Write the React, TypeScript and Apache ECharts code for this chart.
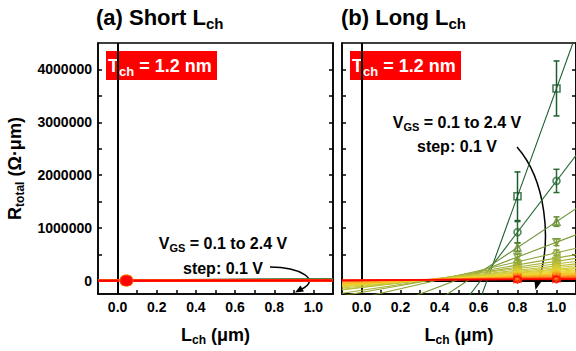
import React, { useEffect, useRef } from "react";
import * as echarts from "echarts";

// ---- data ----
const VGS = [0.1, 0.2, 0.3, 0.4, 0.5, 0.6, 0.7, 0.8, 0.9, 1.0, 1.1, 1.2, 1.3, 1.4, 1.5, 1.6, 1.7, 1.8, 1.9, 2.0, 2.1, 2.2, 2.3, 2.4];

// long channel (panel b), Ω·µm
const LONG_L = [0.8, 1.0];
const R_LONG_08 = [1600000, 920000, 630000, 450000, 360000, 300000, 260000, 230000, 200000, 180000, 160000, 145000, 130000, 118000, 106000, 96000, 87000, 78000, 70000, 60000, 50000, 40000, 31000, 24000];
const R_LONG_10 = [3640000, 1890000, 1120000, 730000, 530000, 430000, 370000, 320000, 280000, 250000, 220000, 200000, 180000, 162000, 146000, 132000, 118000, 105000, 92000, 76000, 62000, 48000, 36000, 27000];
const ERR_LONG_08 = [460000, 200000, 80000, 55000, 45000, 38000, 33000, 29000, 25000, 22000, 20000, 18000, 16000, 14000, 12000, 11000, 10000, 9000, 8000, 7000, 6000, 5000, 4000, 3000];
const ERR_LONG_10 = [520000, 220000, 90000, 65000, 55000, 45000, 40000, 35000, 31000, 28000, 25000, 22000, 20000, 18000, 16000, 14000, 12000, 11000, 10000, 9000, 8000, 7000, 6000, 5000];

// short channel (panel a), Ω·µm
const SHORT_L = [0.04, 0.05];
const R_SHORT_04 = [9000, 8200, 7600, 7100, 6700, 6300, 6000, 5700, 5450, 5200, 5000, 4800, 4600, 4450, 4300, 4150, 4000, 3850, 3700, 3550, 3400, 3250, 3100, 3000];
const R_SHORT_05 = [9200, 8360, 7720, 7200, 6780, 6370, 6060, 5750, 5490, 5235, 5030, 4825, 4622, 4470, 4318, 4166, 4014, 3862, 3710, 3559, 3408, 3257, 3106, 3005];

// axis ticks / labels
const X_LABELS = [0, 0.2, 0.4, 0.6, 0.8, 1.0];
const X_TICKS = [0, 0.1, 0.2, 0.3, 0.4, 0.5, 0.6, 0.7, 0.8, 0.9, 1.0];
const Y_LABELS = [0, 1000000, 2000000, 3000000, 4000000];
const Y_TICKS = [0, 500000, 1000000, 1500000, 2000000, 2500000, 3000000, 3500000, 4000000];
const X_MIN = -0.1, X_MAX = 1.1, Y_MIN = -250000, Y_MAX = 4500000;

// ---- styling ----
const FONT = "'Liberation Sans', Arial, Helvetica, sans-serif";
const STOPS: [number, number[]][] = [
  [0, [26, 92, 46]],
  [0.045, [40, 106, 50]],
  [0.09, [105, 145, 50]],
  [0.2, [150, 170, 55]],
  [0.4, [205, 200, 55]],
  [0.6, [240, 214, 40]],
  [0.78, [248, 170, 30]],
  [0.92, [252, 80, 15]],
  [1, [255, 0, 0]],
];
function colorAt(t: number) {
  for (let k = 1; k < STOPS.length; k++) {
    if (t <= STOPS[k][0]) {
      const [t0, c0] = STOPS[k - 1];
      const [t1, c1] = STOPS[k];
      const f = (t - t0) / (t1 - t0);
      const c = c0.map((v, j) => Math.round(v + (c1[j] - v) * f));
      return `rgb(${c[0]},${c[1]},${c[2]})`;
    }
  }
  return "rgb(255,0,0)";
}
const COLORS = VGS.map((_, i) => colorAt(i / (VGS.length - 1)));
const HEX = "path://M0,-1L0.866,-0.5L0.866,0.5L0,1L-0.866,0.5L-0.866,-0.5Z";
const SYMBOLS: [string, number][] = [
  ["rect", 0], ["circle", 0], ["triangle", 0], ["triangle", 180],
  ["diamond", 0], ["triangle", 90], ["triangle", -90], [HEX, 0],
];

function fit(xs: number[], ys: number[]) {
  const n = xs.length;
  const mx = xs.reduce((a, b) => a + b, 0) / n;
  const my = ys.reduce((a, b) => a + b, 0) / n;
  let sxy = 0, sxx = 0;
  for (let k = 0; k < n; k++) { sxy += (xs[k] - mx) * (ys[k] - my); sxx += (xs[k] - mx) ** 2; }
  const b = sxy / sxx;
  const a = my - b * mx;
  return (x: number) => a + b * x;
}

const subRich = (size: number, pad: number, color = "#000") => ({
  sub: { fontSize: size, fontWeight: "bold" as const, fontFamily: FONT, color, padding: [pad, 0, 0, 0] },
});

function buildOption() {
  const series: any[] = [];
  // reference lines (drawn beneath the data)
  const refLines = (xi: number, yi: number) => ({
    type: "line", xAxisIndex: xi, yAxisIndex: yi, data: [], silent: true, z: 1,
    markLine: { symbol: "none", silent: true, z: 1, label: { show: false }, animation: false,
      lineStyle: { color: "#000", width: 2, type: "solid" }, data: [{ xAxis: 0 }, { yAxis: 0 }] },
  });
  series.push(refLines(0, 0));
  series.push(refLines(1, 2));

  const errData: any[] = [];
  VGS.forEach((_, i) => {
    const c = COLORS[i];
    const [sym, rot] = SYMBOLS[i % SYMBOLS.length];
    // panel a
    const fa = fit(SHORT_L, [R_SHORT_04[i], R_SHORT_05[i]]);
    series.push({
      type: "line", xAxisIndex: 0, yAxisIndex: 0, showSymbol: false, silent: true, z: 2,
      data: [[X_MIN, fa(X_MIN)], [X_MAX, fa(X_MAX)]],
      lineStyle: { color: c, width: 2 }, clip: true,
    });
    series.push({
      type: "scatter", xAxisIndex: 0, yAxisIndex: 0, silent: true, z: 4,
      data: SHORT_L.map((x, k) => [x, k === 0 ? R_SHORT_04[i] : R_SHORT_05[i]]),
      symbol: "circle", symbolSize: i < 14 ? 6 : i < 22 ? 11.5 : 10,
      itemStyle: { color: c },
    });
    // panel b
    const ys = [R_LONG_08[i], R_LONG_10[i]];
    const fb = fit(LONG_L, ys);
    series.push({
      type: "line", xAxisIndex: 1, yAxisIndex: 2, showSymbol: false, silent: true, z: 2,
      data: [[X_MIN, fb(X_MIN)], [X_MAX, fb(X_MAX)]],
      lineStyle: { color: c, width: i > 20 ? 1.6 : 1.1 }, clip: true,
    });
    series.push({
      type: "scatter", xAxisIndex: 1, yAxisIndex: 2, silent: true, z: 4,
      data: LONG_L.map((x, k) => [x, ys[k]]),
      symbol: sym, symbolRotate: rot, symbolSize: 7,
      itemStyle: { color: "rgba(255,255,255,0)", borderColor: c, borderWidth: 1.6 },
    });
    errData.push([LONG_L[0], R_LONG_08[i], ERR_LONG_08[i], i]);
    errData.push([LONG_L[1], R_LONG_10[i], ERR_LONG_10[i], i]);
  });

  series.push({
    type: "custom", xAxisIndex: 1, yAxisIndex: 2, silent: true, z: 3,
    data: errData,
    renderItem: (_p: any, api: any) => {
      const x = api.value(0), y = api.value(1), e = api.value(2), idx = api.value(3);
      const t = api.coord([x, y + e]);
      const b = api.coord([x, y - e]);
      const c = COLORS[idx];
      const st = { stroke: c, lineWidth: 1.5 };
      return {
        type: "group",
        children: [
          { type: "line", shape: { x1: t[0], y1: t[1], x2: b[0], y2: b[1] }, style: st },
          { type: "line", shape: { x1: t[0] - 3, y1: t[1], x2: t[0] + 3, y2: t[1] }, style: st },
          { type: "line", shape: { x1: b[0] - 3, y1: b[1], x2: b[0] + 3, y2: b[1] }, style: st },
        ],
      };
    },
  });

  const axisLine = { show: true, onZero: false, lineStyle: { color: "#000", width: 1.5 } };
  const tickStyle = { color: "#000", width: 1.5 };
  const labelBase = { color: "#000", fontSize: 14, fontWeight: "bold", fontFamily: FONT };

  const xAxis = (gi: number) => ({
    type: "value", gridIndex: gi, min: X_MIN, max: X_MAX,
    axisLine, splitLine: { show: false },
    axisTick: { show: true, inside: true, length: 4, lineStyle: tickStyle, customValues: X_TICKS },
    axisLabel: { ...labelBase, margin: 6, customValues: X_LABELS, formatter: (v: number) => v.toFixed(1) },
    name: "L{sub|ch} (μm)", nameLocation: "middle", nameGap: 30,
    nameTextStyle: { color: "#000", fontSize: 18, fontWeight: "bold", fontFamily: FONT, rich: subRich(12, 10) },
  });
  const yAxis = (gi: number, pos: string, labels: boolean, named: boolean) => ({
    type: "value", gridIndex: gi, min: Y_MIN, max: Y_MAX, position: pos,
    axisLine, splitLine: { show: false },
    axisTick: { show: true, inside: true, length: 4, lineStyle: tickStyle, customValues: Y_TICKS },
    axisLabel: labels
      ? { ...labelBase, margin: 6, customValues: Y_LABELS, formatter: (v: number) => String(v) }
      : { show: false },
    ...(named
      ? {
          name: "R{sub|total} (Ω·μm)", nameLocation: "middle", nameRotate: 90, nameGap: 72,
          nameTextStyle: { color: "#000", fontSize: 18, fontWeight: "bold", fontFamily: FONT, rich: subRich(12, 10) },
        }
      : {}),
  });

  const titleText = (x: number, txt: string) => ({
    type: "text", x, y: 17,
    style: {
      text: txt, fill: "#000", fontSize: 22, fontWeight: "bold", fontFamily: FONT,
      align: "left", verticalAlign: "middle", rich: subRich(15, 13),
    },
  });
  const tBox = (x: number) => [
    { type: "rect", shape: { x, y: 51, width: 111, height: 29 }, style: { fill: "#ff0000" } },
    {
      type: "text", x: x + 2, y: 66,
      style: {
        text: "T{sub|ch} = 1.2 nm", fill: "#fff", fontSize: 18, fontWeight: "bold", fontFamily: FONT,
        align: "left", verticalAlign: "middle", rich: subRich(13, 11, "#fff"),
      },
    },
  ];
  const note = (cx: number, y1: number, y2: number) => [
    {
      type: "text", x: cx, y: y1,
      style: {
        text: "V{sub|GS} = 0.1 to 2.4 V", fill: "#000", fontSize: 16, fontWeight: "bold", fontFamily: FONT,
        align: "center", verticalAlign: "middle", rich: subRich(11, 9),
      },
    },
    {
      type: "text", x: cx, y: y2,
      style: {
        text: "step: 0.1 V", fill: "#000", fontSize: 16, fontWeight: "bold", fontFamily: FONT,
        align: "center", verticalAlign: "middle",
      },
    },
  ];

  return {
    animation: false,
    backgroundColor: "#fff",
    grid: [
      { left: 98, top: 43, width: 235, height: 254, show: true, borderColor: "#000", borderWidth: 1.5, backgroundColor: "transparent" },
      { left: 342, top: 43, width: 234, height: 254, show: true, borderColor: "#000", borderWidth: 1.5, backgroundColor: "transparent" },
    ],
    xAxis: [xAxis(0), xAxis(1)],
    yAxis: [yAxis(0, "left", true, true), yAxis(0, "right", false, false), yAxis(1, "left", false, false), yAxis(1, "right", false, false)],
    series,
    graphic: [
      titleText(96, "(a) Short L{sub|ch}"),
      titleText(341, "(b) Long L{sub|ch}"),
      ...tBox(106),
      ...tBox(350),
      ...note(223, 243, 268),
      ...note(457, 122, 146),
      {
        type: "bezierCurve", silent: true,
        shape: { x1: 270, y1: 267, cpx1: 300, cpy1: 267, cpx2: 322, cpy2: 280, x2: 301, y2: 289.5 },
        style: { stroke: "#000", lineWidth: 1.5, fill: null },
      },
      {
        type: "polygon", silent: true,
        shape: { points: [[295, 292.5], [304, 291.5], [300.5, 285.5]] },
        style: { fill: "#000" },
      },
      {
        type: "bezierCurve", silent: true,
        shape: { x1: 517, y1: 147, cpx1: 546, cpy1: 180, cpx2: 552, cpy2: 240, x2: 538.5, y2: 281 },
        style: { stroke: "#000", lineWidth: 1.5, fill: null },
      },
      {
        type: "polygon", silent: true,
        shape: { points: [[535.5, 290], [541.8, 281], [534.2, 279]] },
        style: { fill: "#000" },
      },
    ],
  };
}

export default function App() {
  const ref = useRef<HTMLDivElement>(null);
  useEffect(() => {
    if (!ref.current) return;
    const chart = echarts.init(ref.current, undefined, { renderer: "svg" });
    chart.setOption(buildOption() as any);
    return () => chart.dispose();
  }, []);
  return <div ref={ref} style={{ position: "fixed", left: 0, top: 0, width: 576, height: 351, background: "#fff" }} />;
}
